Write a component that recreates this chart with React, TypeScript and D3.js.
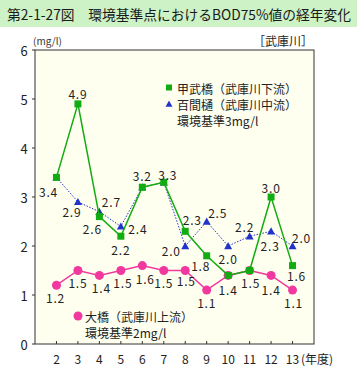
import React from "react";
import * as d3 from "d3";

const years = [2, 3, 4, 5, 6, 7, 8, 9, 10, 11, 12, 13];
const yTicks = [0, 1, 2, 3, 4, 5, 6];
const kobukeValues = [3.4, 4.9, 2.6, 2.2, 3.2, 3.3, 2.3, 1.8, 1.4, 1.5, 3.0, 1.6];
const hyakkenValues = [3.4, 2.9, 2.7, 2.4, 3.2, 3.3, 2.0, 2.5, 2.0, 2.2, 2.3, 2.0];
const ohashiValues = [1.2, 1.5, 1.4, 1.5, 1.6, 1.5, 1.5, 1.1, 1.4, 1.5, 1.4, 1.1];

// label placement (offsets from the point), null = no label shown
const kobukeLabelPos: ([number, number] | null)[] = [
  [-8, 14], [0, -10], [-7, 12], [0, 13], [0, -12], [4, -8],
  [7, -12], [-6, 10], [0, 14], [1, 12], [0, -10], [4, 10],
];
const hyakkenLabelPos: ([number, number] | null)[] = [
  null, [-6, 10], [12, -10], [17, 2], null, null,
  [-14, 4], [11, -9], [0, 12], [-5, -10], [-1, 14], [9, -9],
];
const ohashiLabelPos: ([number, number] | null)[] = [
  [-1, 12], [0, 12], [2, 12], [2, 12], [3, 13], [0, 12],
  [1, 10], [0, 12], null, null, [0, 14], [1, 12],
];

const W = 357;
const H = 367;
const plot = { left: 35, right: 314, top: 50, bottom: 344 };
const GREEN = "#12ac12";
const BLUE = "#2233cc";
const PINK = "#f0389e";
const FONT = "'Noto Sans CJK JP', 'Noto Sans', sans-serif";

export default function App() {
  const x = d3.scaleLinear().domain([1, 14]).range([plot.left, plot.right]);
  const y = d3.scaleLinear().domain([0, 6]).range([plot.bottom, plot.top]);
  const line = d3
    .line<number>()
    .x((_, i) => x(years[i]))
    .y((d) => y(d));
  const fmt = d3.format(".1f");

  const labels = (vals: number[], pos: ([number, number] | null)[]) =>
    vals.map((v, i) => {
      const p = pos[i];
      if (!p) return null;
      return (
        <text
          key={i}
          x={x(years[i]) + p[0]}
          y={y(v) + p[1]}
          textAnchor="middle"
          dominantBaseline="central"
          fontSize={12}
          letterSpacing={0.8}
          fill="#222"
        >
          {fmt(v)}
        </text>
      );
    });

  const tri = (cx: number, cy: number, s: number) =>
    `M${cx},${cy - s}L${cx + s},${cy + s * 0.8}L${cx - s},${cy + s * 0.8}Z`;

  return (
    <svg
      width={W}
      height={H}
      style={{ position: "absolute", left: 0, top: 0, fontFamily: FONT }}
    >
      <rect x={0} y={0} width={W} height={H} fill="#ffffff" />
      <rect x={0} y={0} width={W} height={27} fill="#ccf2c6" />
      <text
        x={7}
        y={14}
        dominantBaseline="central"
        fontSize={14}
        textLength={344}
        lengthAdjust="spacingAndGlyphs"
        fill="#1a1a1a"
      >
        第2-1-27図　環境基準点におけるBOD75%値の経年変化
      </text>

      <rect
        x={plot.left}
        y={plot.top}
        width={plot.right - plot.left}
        height={plot.bottom - plot.top}
        fill="#fffff0"
        stroke="#333"
        strokeWidth={1}
      />

      <text x={33} y={40} dominantBaseline="central" fontSize={10} fill="#333">
        (mg/l)
      </text>
      <text x={313} y={40} textAnchor="end" dominantBaseline="central" fontSize={12} fill="#222">
        ［武庫川］
      </text>

      {yTicks.map((t) => (
        <g key={t}>
          <line x1={plot.left - 3} x2={plot.left} y1={y(t)} y2={y(t)} stroke="#333" />
          <text x={24} y={y(t)} textAnchor="middle" dominantBaseline="central" fontSize={13} fill="#222">
            {t}
          </text>
        </g>
      ))}
      {years.map((yr) => (
        <g key={yr}>
          <line x1={x(yr)} x2={x(yr)} y1={plot.bottom} y2={plot.bottom - 3} stroke="#333" />
          <text x={x(yr)} y={358} textAnchor="middle" dominantBaseline="central" fontSize={12} fill="#222">
            {yr}
          </text>
        </g>
      ))}
      <text x={301} y={358} dominantBaseline="central" fontSize={12} fill="#222">
        (年度)
      </text>

      {/* 大橋 */}
      <path d={line(ohashiValues) || ""} fill="none" stroke={PINK} strokeWidth={1.5} />
      {ohashiValues.map((v, i) => (
        <circle key={i} cx={x(years[i])} cy={y(v)} r={4.5} fill={PINK} />
      ))}

      {/* 百間樋 */}
      <path
        d={line(hyakkenValues) || ""}
        fill="none"
        stroke={BLUE}
        strokeWidth={1}
        strokeDasharray="1.5,1.5"
      />
      {hyakkenValues.map((v, i) => (
        <path key={i} d={tri(x(years[i]), y(v), 4)} fill={BLUE} />
      ))}

      {/* 甲武橋 */}
      <path d={line(kobukeValues) || ""} fill="none" stroke={GREEN} strokeWidth={1.5} />
      {kobukeValues.map((v, i) => (
        <rect key={i} x={x(years[i]) - 3.5} y={y(v) - 3.5} width={7} height={7} fill={GREEN} />
      ))}

      {labels(ohashiValues, ohashiLabelPos)}
      {labels(hyakkenValues, hyakkenLabelPos)}
      {labels(kobukeValues, kobukeLabelPos)}

      {/* legend top */}
      <rect x={166} y={84.5} width={6} height={6} fill={GREEN} />
      <text x={177} y={88} dominantBaseline="central" fontSize={12} fill="#222">
        甲武橋（武庫川下流）
      </text>
      <path d={tri(169, 104, 3.5)} fill={BLUE} />
      <text x={177} y={104} dominantBaseline="central" fontSize={12} fill="#222">
        百間樋（武庫川中流）
      </text>
      <text x={177} y={120} dominantBaseline="central" fontSize={12} fill="#222">
        環境基準3mg/l
      </text>

      {/* legend bottom */}
      <circle cx={78} cy={316} r={4.5} fill={PINK} />
      <text x={85} y={316} dominantBaseline="central" fontSize={12} fill="#222">
        大橋（武庫川上流）
      </text>
      <text x={85} y={332} dominantBaseline="central" fontSize={12} fill="#222">
        環境基準2mg/l
      </text>
    </svg>
  );
}
